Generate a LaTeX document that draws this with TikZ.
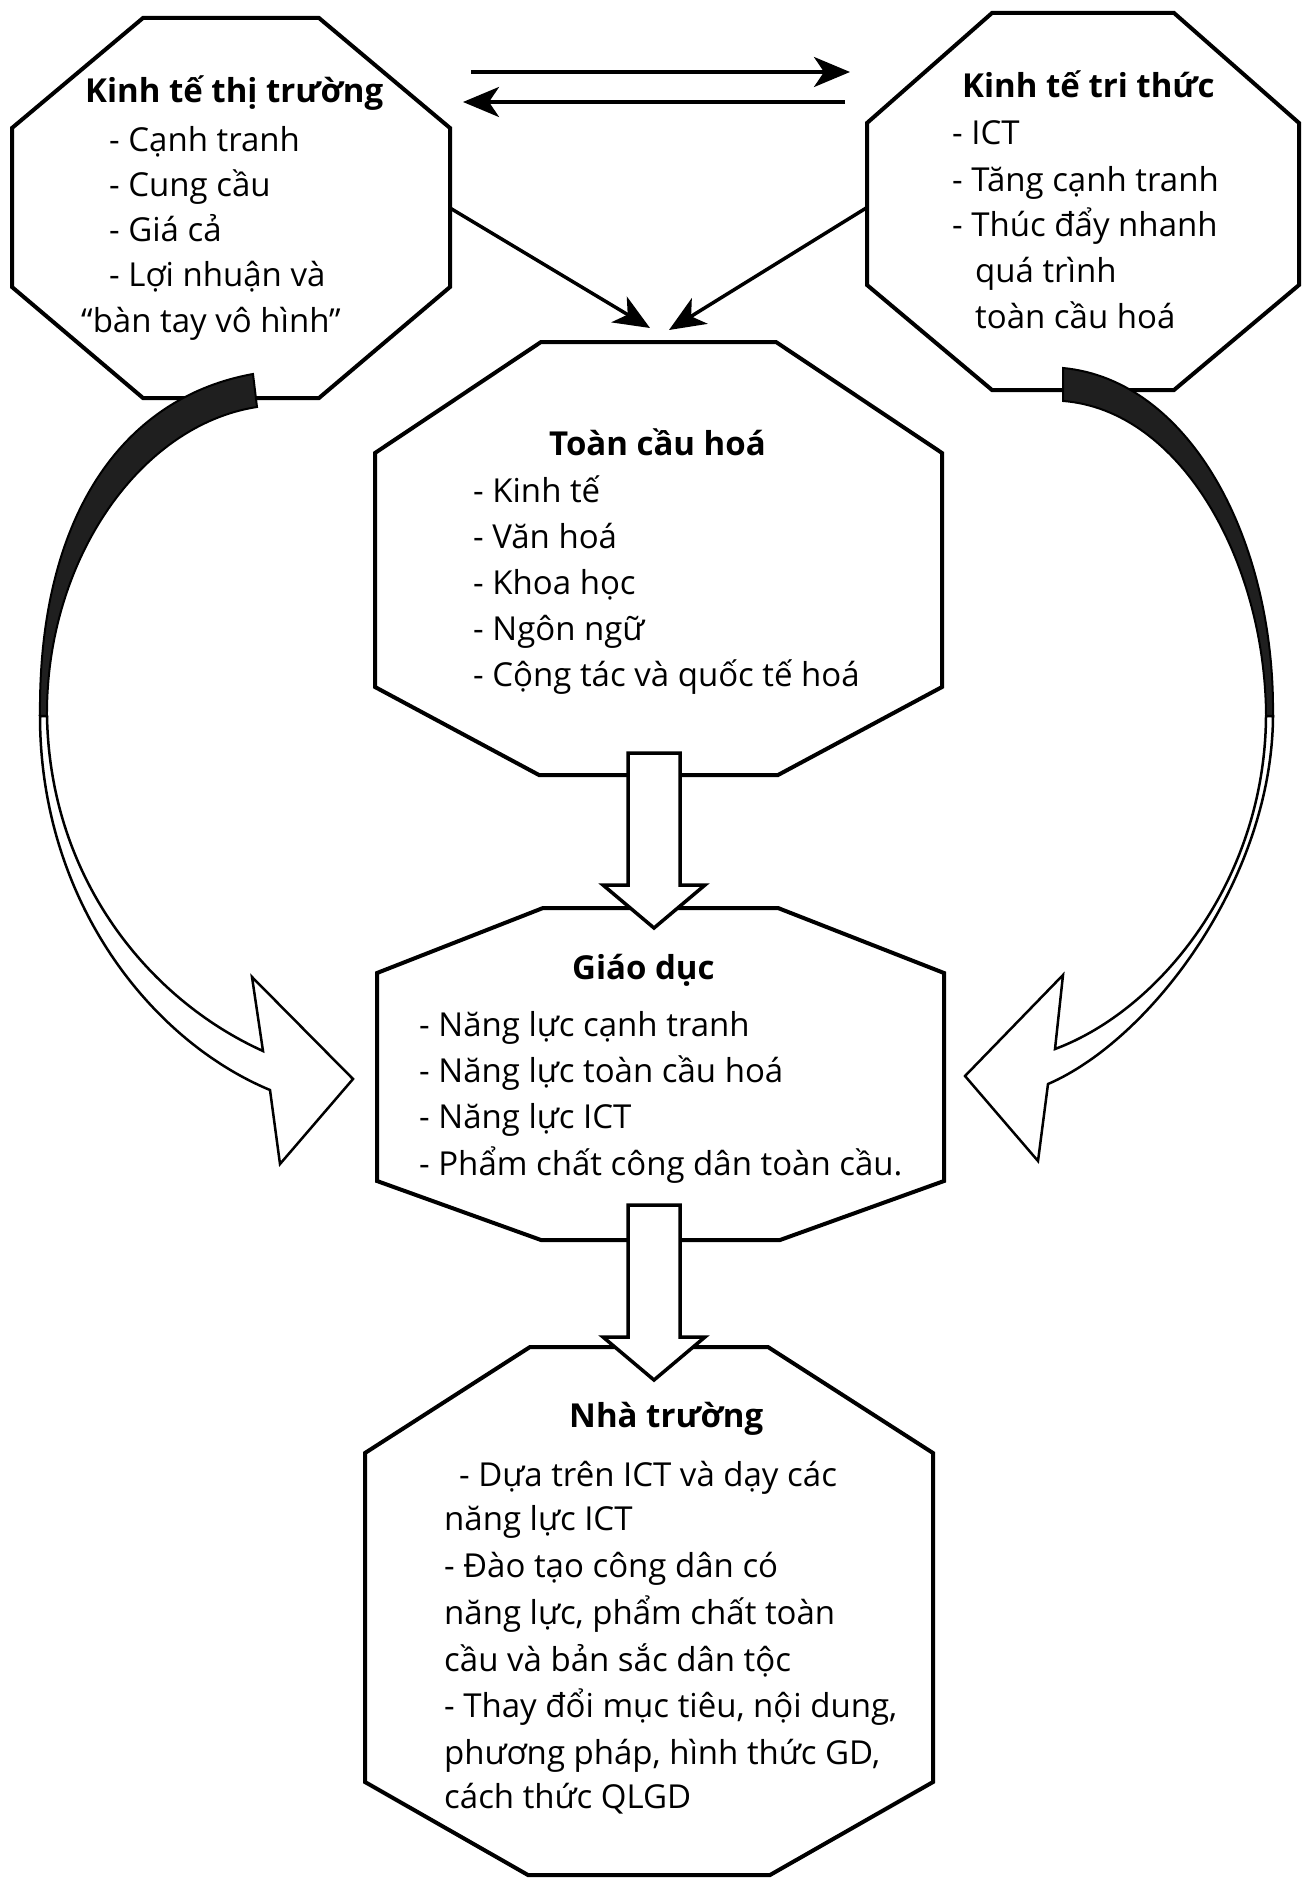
\documentclass[tikz,border=0pt]{standalone}
\usepackage{fontspec}
\setmainfont{Open Sans}
\usetikzlibrary{arrows.meta,calc}

% octagon drawn on the frame of a named node:
% #1 node, #2/#3 top corner cut (x/y), #4/#5 bottom corner cut (x/y)
\newcommand\octagonframe[5]{%
  \draw[octo] ([xshift=#2pt]#1.north west) -- ([xshift=-#2pt]#1.north east)
    -- ([yshift=-#3pt]#1.north east) -- ([yshift=#5pt]#1.south east)
    -- ([xshift=-#4pt]#1.south east) -- ([xshift=#4pt]#1.south west)
    -- ([yshift=#5pt]#1.south west) -- ([yshift=-#3pt]#1.north west) -- cycle;}

% hollow block arrow pointing down from #1 to the tip #2
\newcommand\blockdown[2]{%
  \draw[blockarrow] ($(#1)+(-26,0)$) -- ($(#1)+(26,0)$) -- ($(#2)+(26,-43)$)
    -- ($(#2)+(51,-43)$) -- (#2) -- ($(#2)+(-51,-43)$) -- ($(#2)+(-26,-43)$) -- cycle;}

\begin{document}
\begin{tikzpicture}[x=1pt,y=-1pt,
  frame/.style={draw=none, fill=none, inner sep=0pt, outer sep=0pt, rectangle},
  octo/.style={draw=black, line width=4pt, fill=white, line join=miter},
  txt/.style={anchor=base west, inner sep=0pt, font=\fontsize{33}{40}\selectfont},
  ttl/.style={txt, font=\fontsize{33}{40}\selectfont\bfseries},
  thin/.style={draw=black, line width=3.5pt, -{Stealth[length=36pt,width=30pt,inset=10pt]}},
  blockarrow/.style={draw=black, line width=3.5pt, fill=white, line join=miter},
  band/.style={draw=black, line width=2pt, fill=black!88},
  ribbon/.style={draw=black, line width=2.5pt, fill=white, line join=miter}
]
\fill[white] (0,0) rectangle (1303,1878);
\useasboundingbox (0,0) rectangle (1303,1878);

% frames of the five boxes
\node[frame, minimum width=438pt, minimum height=380pt] (A) at (231,208) {};
\node[frame, minimum width=432pt, minimum height=377pt] (B) at (1083,201.5) {};
\node[frame, minimum width=567pt, minimum height=433pt] (C) at (658.5,558.5) {};
\node[frame, minimum width=567pt, minimum height=332pt] (D) at (660.5,1074) {};
\node[frame, minimum width=568pt, minimum height=528pt] (E) at (649,1611) {};

\octagonframe{A}{131}{110}{131}{111}
\octagonframe{B}{125}{110}{125}{105}
\octagonframe{C}{166}{111}{164}{88}
\octagonframe{D}{166}{65}{164}{59}
\octagonframe{E}{165}{106}{163}{93}

% exchange between the two economies
\coordinate (ab0) at (471,72);  \coordinate (ab1) at (850,72);
\coordinate (ba0) at (845,102); \coordinate (ba1) at (463,102);
\draw[thin] (ab0) -- (ab1);
\draw[thin] (ba0) -- (ba1);

% both economies feed globalisation
\coordinate (ac) at ([xshift=-8.5pt,yshift=14pt]C.north);
\coordinate (bc) at ([xshift=10.5pt,yshift=12pt]C.north);
\draw[thin] (A.east) -- (ac);
\draw[thin] ([yshift=-6pt]B.west) -- (bc);

% globalisation -> education -> school
\coordinate (cd0) at ([xshift=-4.5pt,yshift=22pt]C.south);
\coordinate (cd1) at ([xshift=-6.5pt,yshift=-20pt]D.north);
\coordinate (de0) at ([xshift=-6.5pt,yshift=35pt]D.south);
\coordinate (de1) at ([xshift=5pt,yshift=-33pt]E.north);
\blockdown{cd0}{cd1}
\blockdown{de0}{de1}

% left curved ribbon arrow into education
\draw[band] (253,374) .. controls (120,398) and (38,520) .. (40,716)
  -- (47,716) .. controls (46,560) and (140,425) .. (257,407) -- cycle;
\draw[ribbon] (40,716) .. controls (40,900) and (150,1040) .. (270,1090)
  -- (280,1164) -- (353,1079) -- (252,977) -- (263,1051)
  .. controls (150,1000) and (50,880) .. (47,716) -- cycle;

% right curved ribbon arrow into education
\draw[band] (1063,368) .. controls (1190,380) and (1275,540) .. (1273,716)
  -- (1266,716) .. controls (1265,560) and (1180,410) .. (1063,401) -- cycle;
\draw[ribbon] (1273,716) .. controls (1272,880) and (1150,1040) .. (1048,1084)
  -- (1038,1161) -- (965,1076) -- (1063,975) -- (1055,1049)
  .. controls (1160,1010) and (1265,880) .. (1266,716) -- cycle;

% texts
\node[ttl] (a0) at (85,103) {Kinh tế thị trường};
\node[txt] (a1) at (109,152) {- Cạnh tranh};
\node[txt] (a2) at (109,197) {- Cung cầu};
\node[txt] (a3) at (109,242) {- Giá cả};
\node[txt] (a4) at (109,287) {- Lợi nhuận và};
\node[txt] (a5) at (81,332) {“bàn tay vô hình”};

\node[ttl] (b0) at (962,98) {Kinh tế tri thức};
\node[txt] (b1) at (952,145) {- ICT};
\node[txt] (b2) at (952,192) {- Tăng cạnh tranh};
\node[txt] (b3) at (952,237) {- Thúc đẩy nhanh};
\node[txt] (b4) at (975,283) {quá trình};
\node[txt] (b5) at (975,328) {toàn cầu hoá};

\node[ttl] (c0) at (549,455) {Toàn cầu hoá};
\node[txt] (c1) at (473,502) {- Kinh tế};
\node[txt] (c2) at (473,548) {- Văn hoá};
\node[txt] (c3) at (473,594) {- Khoa học};
\node[txt] (c4) at (473,640) {- Ngôn ngữ};
\node[txt] (c5) at (473,686) {- Cộng tác và quốc tế hoá};

\node[ttl] (d0) at (572,979) {Giáo dục};
\node[txt] (d1) at (419,1036) {- Năng lực cạnh tranh};
\node[txt] (d2) at (419,1082) {- Năng lực toàn cầu hoá};
\node[txt] (d3) at (419,1128) {- Năng lực ICT};
\node[txt] (d4) at (419,1175) {- Phẩm chất công dân toàn cầu.};

\node[ttl] (e0) at (569,1427) {Nhà trường};
\node[txt] (e1) at (459,1486) {- Dựa trên ICT và dạy các};
\node[txt] (e2) at (444,1530) {năng lực ICT};
\node[txt] (e3) at (444,1577) {- Đào tạo công dân có};
\node[txt] (e4) at (444,1624) {năng lực, phẩm chất toàn};
\node[txt] (e5) at (444,1671) {cầu và bản sắc dân tộc};
\node[txt] (e6) at (444,1717) {- Thay đổi mục tiêu, nội dung,};
\node[txt] (e7) at (444,1764) {phương pháp, hình thức GD,};
\node[txt] (e8) at (444,1808) {cách thức QLGD};
\end{tikzpicture}
\end{document}
